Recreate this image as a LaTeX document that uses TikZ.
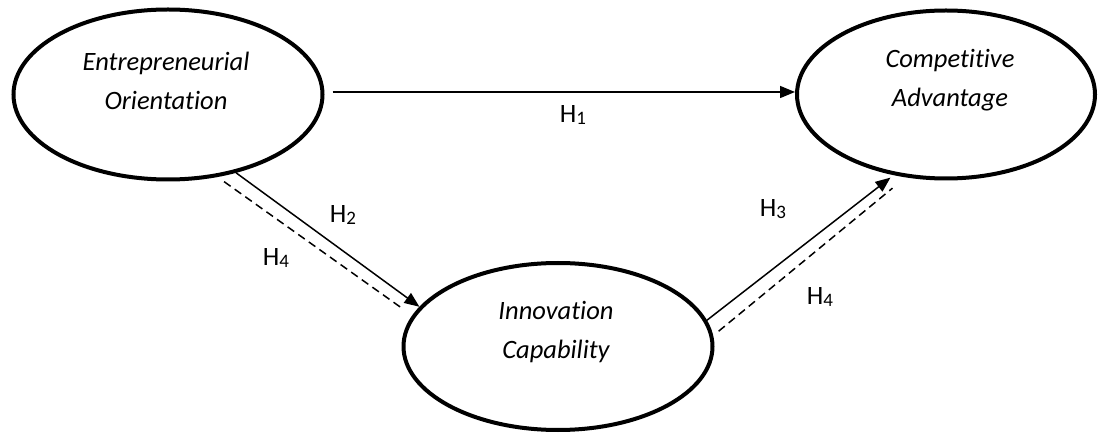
\documentclass[tikz,border=0pt]{standalone}
\usepackage{fontspec}
\setmainfont{Carlito}[Ligatures=NoCommon]
\usetikzlibrary{arrows.meta,shapes.geometric}
\newcommand\hsb[1]{\raisebox{-2pt}{\fontsize{19}{19}\selectfont #1}}
\begin{document}
\begin{tikzpicture}[x=1pt,y=-1pt,
  construct/.style={draw, ellipse, line width=4pt, inner sep=0pt, minimum width=309pt, minimum height=170pt},
  ctext/.style={align=center, font=\fontsize{26.5}{39}\selectfont\itshape, inner sep=0pt},
  hyp/.style={font=\fontsize{26.5}{30}\selectfont, inner sep=0pt},
  arr/.style={line width=1.5pt, -{Triangle[length=15pt,width=12pt]}},
  dsh/.style={line width=1.5pt, dash pattern=on 8pt off 5pt}]
\useasboundingbox (0,0) rectangle (1100,435);
\node[construct] (eo) at (168,94.5) {};
\node[construct, minimum width=298pt, minimum height=168pt] (ca) at (946,94.5) {};
\node[construct, minimum height=167pt] (ic) at (558,346.5) {};
\node[ctext] (eot) at (166,81) {Entrepreneurial\\Orientation};
\node[ctext] (cat) at (950,80) {Competitive\\Advantage};
\node[ctext] (ict) at (556,332) {Innovation\\Capability};
\draw[arr, shorten <=8pt] ([yshift=2.5pt]eo.east) -- ([yshift=2.5pt]ca.west);
\draw[arr] (eo.-49) -- (ic.164);
\draw[dsh, shorten <=8pt, shorten >=12pt] (eo.-59) -- (ic.168);
\draw[arr, shorten >=4pt] (ic.10) -- (ca.-123);
\draw[dsh, shorten <=7pt, shorten >=17pt] (ic.4.6) -- (ca.-116);
\node[hyp] (h1) at (573,115) {H\hsb{1}};
\node[hyp] (h2) at (343,215) {H\hsb{2}};
\node[hyp] (h4a) at (276,258) {H\hsb{4}};
\node[hyp] (h3) at (773,209) {H\hsb{3}};
\node[hyp] (h4b) at (820,297) {H\hsb{4}};
\end{tikzpicture}
\end{document}
